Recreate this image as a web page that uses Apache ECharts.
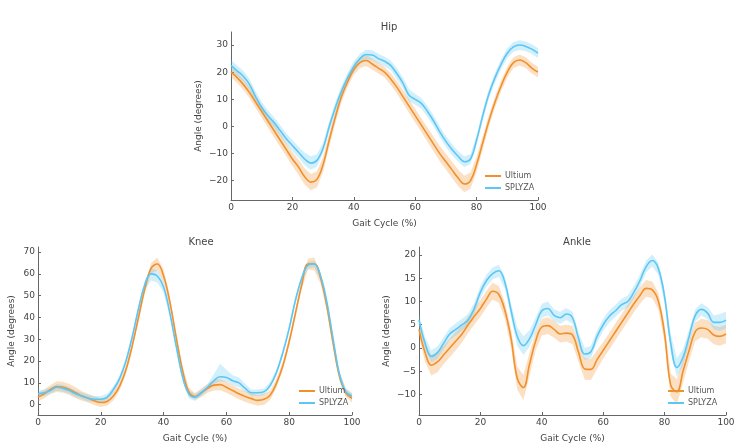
<!DOCTYPE html>
<html>
<head>
<meta charset="utf-8">
<script src="https://cdn.jsdelivr.net/npm/echarts@6/dist/echarts.min.js"></script>
<style>html,body{margin:0;padding:0;background:#fff}#c{width:750px;height:447px}</style>
</head>
<body>
<div id="c"></div>
<script>
// Gait cycle sample points (%)
const gaitX = [0,2,4,6,8,10,12,14,16,18,20,22,24,26,28,30,32,34,36,38,40,42,44,46,48,50,52,54,56,58,60,62,64,66,68,70,72,74,76,78,80,82,84,86,88,90,92,94,96,98,100];
const xTicks = [0,20,40,60,80,100];

// Hip
const hipUltium = [20,18,15.5,12.5,9,5.5,2,-1.5,-5,-8.5,-12,-15,-18.5,-20.5,-19.5,-14,-5,3.5,11,16.5,21,23.5,24.3,23,21.5,20,17.5,14.5,11,7.5,4,0.5,-3,-6.5,-10,-13,-16,-19,-21.2,-20,-14,-6,2,9,15,20,23.5,24.5,23.5,21.5,20];
const hipUltiumSd = [2,2,2,2,2.2,2.3,2.4,2.5,2.5,2.5,2.6,2.8,3,3,3,2.8,2.5,2.2,2,2,2,2,2,2,2,2,2.2,2.3,2.4,2.5,2.5,2.5,2.6,2.7,2.8,2.9,3,3,3,3,2.8,2.5,2.2,2,2,2,2,2,2,2,2];
const hipSplyza = [22.5,20.5,18.5,15.5,11,7,4,1.5,-1.5,-4.5,-7,-9.5,-12,-13.5,-12.5,-8,0,7,13,18,22,25,26.5,26.3,25,24,22.5,19.5,16,11.5,10,8.5,5.5,2,-2,-5.5,-8.5,-11,-13,-12,-5,4,12,18,23,27,29.3,30,29.5,28.5,27];
const hipSplyzaSd = [2,2,2,2,2,2,2,2,2,2,2,2,2.3,2.5,2.3,2,2,2,2,2,2,1.8,1.8,1.8,1.8,1.8,1.8,2,2,2.2,2,2,2,2,2,2,2,2,2,1.8,1.8,1.8,1.8,1.8,1.8,1.8,1.8,1.8,1.8,1.8,1.8];
const hipTicks = [-20,-10,0,10,20,30];

// Knee
const kneeUltium = [3.5,5,7,8.3,8,7,5.5,4,3,1.8,1,1.5,4,8.5,16,27,40,53,62.5,64.5,59,47,31,16,6,3.8,5.5,7.5,9,9.2,8,6.5,5,3.8,2.8,2,2.5,4.5,10,18,29,42,55,64.5,64.5,58,45,28,13,5.5,3];
const kneeUltiumSd = [2,2,2,2.5,2.5,2.5,2.5,2.2,2,2,2,2,2,2,2,2,2,2,2.5,3,3,2.5,2,2,2,1.5,2,2,2.5,2.5,2.5,2.5,2.5,2.5,2.5,2.5,2.5,2.2,2,2,2,2,2,2.5,3,2.5,2,2,2,2,2];
const kneeSplyza = [5,5.5,6.5,8,7.5,6.5,5,4,3,2.5,2.5,3.5,7,12,20,31,44,55,60,59,54,42,27,13,5,3.5,5.5,8,11,12.8,12.5,11,10,7.5,5.5,5.5,6,9,15,24,35,48,58,64,64.5,59,47,30,14,6,4];
const kneeSplyzaSdUp = [1.5,1.5,1.5,1.5,1.5,1.5,1.5,1.5,1.5,1.5,1.5,1.5,1.5,1.5,1.5,1.5,1.5,2,2.5,2.5,2,1.5,1.5,1.5,1.5,1.5,1.5,1.5,3,6,3.5,2.5,2.5,2,1.5,1.5,1.5,1.5,1.5,1.5,1.5,1.5,1.5,1.5,1.5,1.5,1.5,1.5,1.5,1.5,1.5];
const kneeSplyzaSdDown = [1.5,1.5,1.5,1.5,1.5,1.5,1.5,1.5,1.5,1.5,1.5,1.5,1.5,1.5,1.5,1.5,2,2.5,3,3,2.5,2,2,2,2,1.8,1.5,1.5,1.5,2,2,2,2,1.5,1.5,1.5,1.5,1.5,1.5,1.5,1.5,1.5,1.5,1.5,1.5,1.5,1.5,1.5,1.5,1.5,1.5];
const kneeTicks = [0,10,20,30,40,50,60,70];

// Ankle
const ankleUltium = [4,-1,-3.7,-3,-1.5,0,1.5,3,5,6.8,8.5,10.5,12.2,11.5,8,2,-6.5,-8.5,-3.5,1.5,4.5,4.8,4,3,3.2,2.8,-1,-4.5,-4.6,-2.5,-0.5,1.5,3.5,5.5,7.5,9.5,11.3,12.8,12.5,10,3,-8,-9.4,-5,-0.5,3.5,4.3,4,2.8,2.5,3];
const ankleUltiumSd = [1.5,2,2.2,2.2,2,2,2,1.8,1.8,1.8,1.8,1.8,1.8,1.8,1.8,2,2.5,2.7,2.5,2,1.8,1.8,1.8,1.8,1.8,2,2,2.3,2.3,2,1.8,1.8,1.8,1.8,1.8,1.8,1.8,1.8,1.8,1.8,2,2.5,2.7,2.5,2.2,2,2,2,2,2,2];
const ankleSplyza = [6,1,-1.8,-1,1,3,4,5,6,8.5,12,14.5,16,16.6,14,8,2.5,0.5,2,5,8,8.5,7,6.5,7.3,6.5,2,-1.3,-0.8,2.5,5,6.8,8,9.3,10,12,14.5,17.5,18.8,17,11,1,-4.2,-2,2.5,7,8.3,7.5,5.5,5.5,6];
const ankleSplyzaSd = [1.3,1.3,1.3,1.3,1.3,1.3,1.3,1.3,1.3,1.3,1.3,1.3,1.3,1.3,1.3,1.5,2,2,1.8,1.5,1.5,1.5,1.3,1.3,1.3,1.3,1.3,1.3,1.3,1.3,1.3,1.3,1.3,1.3,1.3,1.3,1.3,1.3,1.3,1.3,1.5,2,2,1.8,1.5,1.3,1.3,1.3,1.5,1.8,1.8];
const ankleTicks = [-10,-5,0,5,10,15,20];

const titles = ['Hip','Knee','Ankle'];
const seriesNames = ['Ultium','SPLYZA'];
const ORANGE = '#f2902c';
const BLUE = '#5cc6f4';
const TXT = '#444';

function pairs(ys){ return gaitX.map((x,i)=>[x, ys[i]]); }

// Shaded band (mean - sdDown .. mean + sdUp) drawn as one polygon in axis coordinates
function bandSeries(idx, key, mean, sdUp, sdDown, color){
  const lo = mean.map((v,i)=>v - sdDown[i]);
  const hi = mean.map((v,i)=>v + sdUp[i]);
  return {
    name:key, type:'custom', xAxisIndex:idx, yAxisIndex:idx, silent:true, z:1, clip:true,
    data: gaitX.map((x,i)=>[x, lo[i], hi[i]]),
    encode:{x:0, y:[1,2]},
    renderItem: function(params, api){
      if (params.dataIndex !== 0) return null;
      const pts = [];
      for (let i=0;i<gaitX.length;i++) pts.push(api.coord([gaitX[i], hi[i]]));
      for (let i=gaitX.length-1;i>=0;i--) pts.push(api.coord([gaitX[i], lo[i]]));
      return {type:'polygon', shape:{points:pts}, style:{fill:color, opacity:0.28}};
    }
  };
}
function lineSeries(idx, name, ys, color){
  return {name:name, type:'line', xAxisIndex:idx, yAxisIndex:idx, data:pairs(ys), symbol:'none', smooth:0.4,
    lineStyle:{color:color, width:1.6}, itemStyle:{color:color}, z:3};
}

const grids = [
  {left:231, top:32, width:307, height:168},
  {left:38, top:247, width:314, height:168},
  {left:419, top:247, width:307, height:168}
];
const yRanges = [[-27.1,34.8],[-4.7,72.3],[-14.4,21.7]];
const yTicks = [hipTicks, kneeTicks, ankleTicks];
const yGaps = [28, 22, 28];

const axisLine = {show:true, onZero:false, lineStyle:{color:'#666', width:1}};
const xAxes = grids.map((g,i)=>({
  type:'value', gridIndex:i, min:0, max:100, interval:20,
  name:'Gait Cycle (%)', nameLocation:'middle', nameGap:19,
  nameTextStyle:{color:TXT, fontSize:9, fontFamily:'DejaVu Sans'},
  axisLine:axisLine, axisTick:{show:true, inside:true, length:3, lineStyle:{color:'#666'}, customValues:xTicks},
  axisLabel:{color:TXT, fontSize:9, margin:3, fontFamily:'DejaVu Sans', customValues:xTicks},
  splitLine:{show:false}
}));
const yAxes = grids.map((g,i)=>({
  type:'value', gridIndex:i, min:yRanges[i][0], max:yRanges[i][1],
  name:'Angle (degrees)', nameLocation:'middle', nameGap:yGaps[i],
  nameTextStyle:{color:TXT, fontSize:9, fontFamily:'DejaVu Sans'},
  axisLine:axisLine,
  axisTick:{show:true, inside:true, length:3, lineStyle:{color:'#666'}, customValues:yTicks[i]},
  axisLabel:{color:TXT, fontSize:9, margin:3, fontFamily:'DejaVu Sans', customValues:yTicks[i],
    formatter:v=>String(v).replace('-','\u2212')},
  splitLine:{show:false}
}));

const series = [
  bandSeries(0,'hipU',hipUltium,hipUltiumSd,hipUltiumSd,ORANGE),
  bandSeries(0,'hipS',hipSplyza,hipSplyzaSd,hipSplyzaSd,BLUE),
  lineSeries(0,seriesNames[0],hipUltium,ORANGE),
  lineSeries(0,seriesNames[1],hipSplyza,BLUE),
  bandSeries(1,'kneeU',kneeUltium,kneeUltiumSd,kneeUltiumSd,ORANGE),
  bandSeries(1,'kneeS',kneeSplyza,kneeSplyzaSdUp,kneeSplyzaSdDown,BLUE),
  lineSeries(1,seriesNames[0],kneeUltium,ORANGE),
  lineSeries(1,seriesNames[1],kneeSplyza,BLUE),
  bandSeries(2,'ankU',ankleUltium,ankleUltiumSd,ankleUltiumSd,ORANGE),
  bandSeries(2,'ankS',ankleSplyza,ankleSplyzaSd,ankleSplyzaSd,BLUE),
  lineSeries(2,seriesNames[0],ankleUltium,ORANGE),
  lineSeries(2,seriesNames[1],ankleSplyza,BLUE)
];

const titleCenters = [[384,24],[196,239],[572,239]];
const legendPos = [[485,171],[299,386],[668,386]];

const option = {
  backgroundColor:'#fff',
  animation:false,
  title: titles.map((t,i)=>({text:t, left:titleCenters[i][0], top:titleCenters[i][1]-7, textAlign:'center',
    textStyle:{color:TXT, fontSize:10, fontWeight:'normal', fontFamily:'DejaVu Sans'}})),
  legend: legendPos.map(p=>({data:seriesNames, orient:'vertical', left:p[0], top:p[1], padding:0, itemGap:2,
    icon:'rect', itemWidth:16, itemHeight:2, selectedMode:false,
    textStyle:{color:'#555', fontSize:8, lineHeight:10, fontFamily:'DejaVu Sans', padding:[0,0,0,-1]}})),
  grid: grids,
  xAxis: xAxes,
  yAxis: yAxes,
  series: series
};
const chart = echarts.init(document.getElementById('c'), null, {renderer:'canvas'});
chart.setOption(option);
</script>
</body>
</html>
